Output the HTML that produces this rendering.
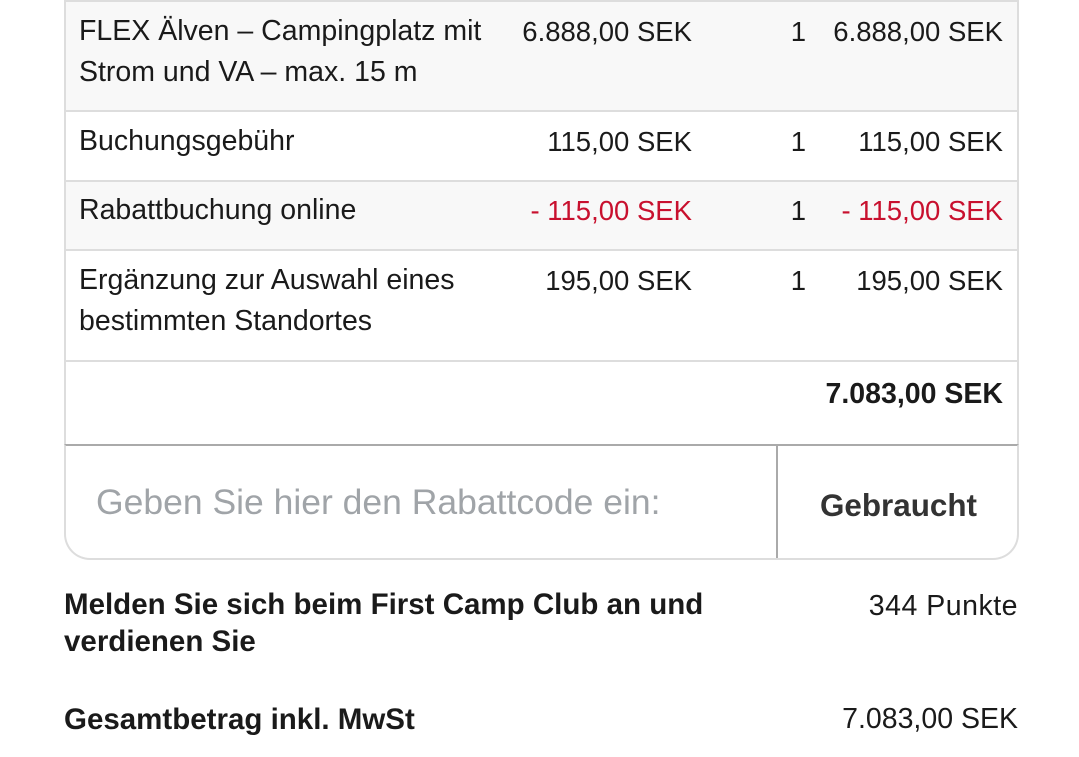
<!DOCTYPE html>
<html><head><meta charset="utf-8"><style>
body{margin:0;width:1079px;height:757px;background:#fff;font-family:"Liberation Sans",sans-serif;color:#1a1a1a;position:relative;overflow:hidden}
.a{position:absolute;font-size:28.5px;line-height:41px;white-space:nowrap}
.r{text-align:right}
.n{font-size:27.5px}
.red{color:#c8102e}
.box{position:absolute;left:64px;width:951px;border-left:2px solid #ddd;border-right:2px solid #ddd}
.hl{position:absolute;left:64px;width:955px;height:2px;background:#ddd}
b{font-weight:bold}
.bb{font-size:29.5px}
</style></head><body>
<div class="box" style="top:0;height:110px;background:#f8f8f8"></div>
<div class="box" style="top:112px;height:68px;background:#fff"></div>
<div class="box" style="top:182px;height:67px;background:#f8f8f8"></div>
<div class="box" style="top:251px;height:109px;background:#fff"></div>
<div class="box" style="top:362px;height:82px;background:#fff"></div>
<div class="hl" style="top:0"></div>
<div class="hl" style="top:110px"></div>
<div class="hl" style="top:180px"></div>
<div class="hl" style="top:249px"></div>
<div class="hl" style="top:360px"></div>
<div style="position:absolute;left:64px;top:444px;width:951px;height:112px;border:2px solid #ddd;border-top:2px solid #aaa;border-radius:0 0 26px 26px"></div>
<div style="position:absolute;left:776px;top:444px;width:2px;height:114px;background:#aaa"></div>

<div class="a" style="left:79px;top:11px">FLEX Älven – Campingplatz mit<br>Strom und VA – max. 15 m</div>
<div class="a r n" style="right:387px;top:11px">6.888,00 SEK</div>
<div class="a r n" style="right:273px;top:11px">1</div>
<div class="a r n" style="right:76px;top:11px">6.888,00 SEK</div>

<div class="a" style="left:79px;top:121px">Buchungsgebühr</div>
<div class="a r n" style="right:387px;top:121px">115,00 SEK</div>
<div class="a r n" style="right:273px;top:121px">1</div>
<div class="a r n" style="right:76px;top:121px">115,00 SEK</div>

<div class="a" style="left:79px;top:190px">Rabattbuchung online</div>
<div class="a r n red" style="right:387px;top:190px">- 115,00 SEK</div>
<div class="a r n" style="right:273px;top:190px">1</div>
<div class="a r n red" style="right:76px;top:190px">- 115,00 SEK</div>

<div class="a" style="left:79px;top:260px">Ergänzung zur Auswahl eines<br>bestimmten Standortes</div>
<div class="a r n" style="right:387px;top:260px">195,00 SEK</div>
<div class="a r n" style="right:273px;top:260px">1</div>
<div class="a r n" style="right:76px;top:260px">195,00 SEK</div>

<div class="a r" style="right:76px;top:374px"><b>7.083,00 SEK</b></div>

<div class="a" style="left:96px;top:482px;font-size:35.5px;color:#a0a4a8">Geben Sie hier den Rabattcode ein:</div>
<div class="a" style="left:820px;top:485px;font-size:31.4px;color:#333"><b>Gebraucht</b></div>

<div class="a bb" style="left:64px;top:586px;line-height:37px"><b>Melden Sie sich beim First Camp Club an und<br>verdienen Sie</b></div>
<div class="a r" style="right:61px;top:586px;letter-spacing:0.5px">344 Punkte</div>

<div class="a bb" style="left:64px;top:699px"><b>Gesamtbetrag inkl. MwSt</b></div>
<div class="a r" style="right:61px;top:699px">7.083,00 SEK</div>
</body></html>
